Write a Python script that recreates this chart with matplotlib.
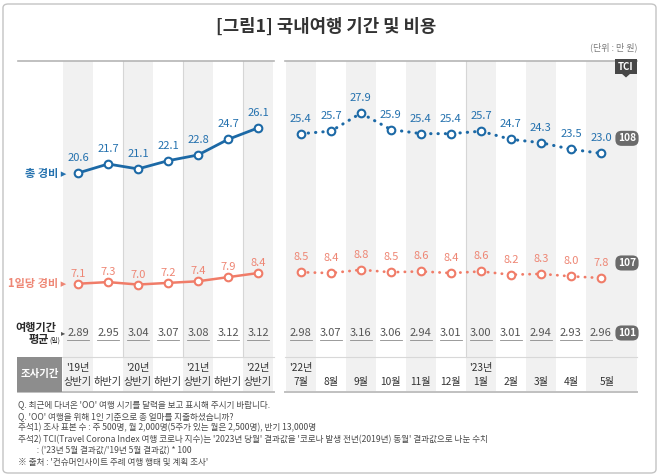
import numpy as np
import matplotlib
matplotlib.use("Agg")
import matplotlib.pyplot as plt
from matplotlib.patches import FancyBboxPatch, Rectangle, Polygon

plt.rcParams['font.family'] = ['Noto Sans CJK KR', 'DejaVu Sans']

# ---------------- data ----------------
periods_left = ["'19년\n상반기", "하반기", "'20년\n상반기", "하반기", "'21년\n상반기", "하반기", "'22년\n상반기"]
periods_right = ["'22년\n7월", "8월", "9월", "10월", "11월", "12월", "'23년\n1월", "2월", "3월", "4월", "5월"]
total_left = [20.6, 21.7, 21.1, 22.1, 22.8, 24.7, 26.1]
total_right = [25.4, 25.7, 27.9, 25.9, 25.4, 25.4, 25.7, 24.7, 24.3, 23.5, 23.0]
daily_left = [7.1, 7.3, 7.0, 7.2, 7.4, 7.9, 8.4]
daily_right = [8.5, 8.4, 8.8, 8.5, 8.6, 8.4, 8.6, 8.2, 8.3, 8.0, 7.8]
days_left = [2.89, 2.95, 3.04, 3.07, 3.08, 3.12, 3.12]
days_right = [2.98, 3.07, 3.16, 3.06, 2.94, 3.01, 3.00, 3.01, 2.94, 2.93, 2.96]
tci_total, tci_daily, tci_days = 108, 107, 101

title = "[그림1] 국내여행 기간 및 비용"
unit = "(단위 : 만 원)"
notes = [
    "Q. 최근에 다녀온 'OO' 여행 시기를 달력을 보고 표시해 주시기 바랍니다.",
    "Q. 'OO' 여행을 위해 1인 기준으로 총 얼마를 지출하셨습니까?",
    "주석1) 조사 표본 수 : 주 500명, 월 2,000명(5주가 있는 월은 2,500명), 반기 13,000명",
    "주석2) TCI(Travel Corona Index 여행 코로나 지수)는 '2023년 당월' 결과값을 '코로나 발생 전년(2019년) 동월' 결과값으로 나눈 수치",
    "          : ('23년 5월 결과값/'19년 5월 결과값) * 100",
    "※ 출처 : '컨슈머인사이트 주례 여행 행태 및 계획 조사'",
]

# ---------------- style ----------------
BLUE = '#1c69a6'
BLUE_T = '#2471ae'
RED = '#f07c68'
RED_T = '#ee8674'
BAND = '#f1f1f1'
W, H = 658, 476
X_ORIG, X_STEP = 78, 30.0
Y_TOP, Y_SCALE = 41.7, 8.2

def PX(p):
    return (p - X_ORIG) / X_STEP

def PY(p):
    return Y_TOP - p / Y_SCALE

fig = plt.figure(figsize=(W / 100, H / 100), dpi=100)
ax = fig.add_axes([0, 0, 1, 1])
ax.set_xlim(PX(0), PX(W))
ax.set_ylim(PY(H), PY(0))
ax.axis('off')

xl = np.arange(len(total_left), dtype=float)
xr = np.arange(len(total_left), len(total_left) + len(total_right)) + 0.43

# frame
fig.patches.append(FancyBboxPatch((3 / W, 3 / H), 653 / W, 469 / H,
                                  boxstyle='round,pad=0,rounding_size=0.008',
                                  transform=fig.transFigure, fc='none', ec='#c4c4c4', lw=1.0))

# background bands
y_b0, y_b1 = PY(392), PY(61)
for i in range(0, len(xl), 2):
    ax.add_patch(Rectangle((xl[i] - 0.5, y_b0), 1.0, y_b1 - y_b0, fc=BAND, ec='none', zorder=0))
for i in range(0, len(xr), 2):
    wdt = 1.0 if i < len(xr) - 1 else PX(637) - (xr[i] - 0.5)
    ax.add_patch(Rectangle((xr[i] - 0.5, y_b0), wdt, y_b1 - y_b0, fc=BAND, ec='none', zorder=0))

# year separators
for xv in [xl[2] - 0.5, xl[4] - 0.5, xl[6] - 0.5, xr[6] - 0.5]:
    ax.plot([xv, xv], [PY(357), PY(61)], color='#d6d6d6', lw=0.8, zorder=1)

# horizontal rules
for (a, b) in [(18, 274), (285, 637)]:
    ax.plot([PX(a), PX(b)], [PY(61)] * 2, color='#b5b5b5', lw=1.2, zorder=2)
    ax.plot([PX(a), PX(b)], [PY(392)] * 2, color='#c0c0c0', lw=1.4, zorder=2)
ax.plot([PX(62), PX(274)], [PY(357)] * 2, color='#d8d8d8', lw=0.8, zorder=2)
ax.plot([PX(285), PX(637)], [PY(357)] * 2, color='#d8d8d8', lw=0.8, zorder=2)

# 조사기간 box
ax.add_patch(Rectangle((PX(17), PY(392)), PX(62) - PX(17), PY(357) - PY(392),
                       fc='#8d8d8d', ec='none', zorder=2))
ax.text((PX(17) + PX(62)) / 2, PY(374.5), "조사기간", ha='center', va='center',
        color='white', fontsize=7.5, fontweight='bold', zorder=3)

# title / unit
ax.text(PX(326), PY(27), title, ha='center', va='center', fontsize=12.8,
        fontweight='bold', color='#333333')
ax.text(PX(637), PY(47), unit, ha='right', va='center', fontsize=6.5, color='#7a7a7a')

# TCI badge
ax.text(PX(626), PY(66.5), "TCI", ha='center', va='center', fontsize=7, fontweight='bold',
        color='white', zorder=6,
        bbox=dict(boxstyle='square,pad=0.3', fc='#474747', ec='none'))
ax.add_patch(Polygon([[PX(621), PY(73)], [PX(631), PY(73)], [PX(626), PY(77.5)]],
                     closed=True, fc='#474747', ec='none', zorder=6))

# lines
mk = dict(marker='o', ms=5.5, mfc='white', mew=1.5, zorder=5)
ax.plot(xl, total_left, color=BLUE, lw=2.0, mec=BLUE, solid_capstyle='round', **mk)
ax.plot(xr, total_right, color=BLUE, lw=2.2, ls=(0, (0.1, 2.3)), dash_capstyle='round', mec=BLUE, **mk)
ax.plot(xl, daily_left, color=RED, lw=1.8, mec=RED, solid_capstyle='round', **mk)
ax.plot(xr, daily_right, color=RED, lw=2.0, ls=(0, (0.1, 2.4)), dash_capstyle='round', mec=RED, **mk)

# value labels
off15 = 15 / Y_SCALE
off10 = 10 / Y_SCALE
for x, v in zip(xl, total_left):
    ax.text(x, v + off15, f"{v:.1f}", ha='center', va='center', fontsize=8, color=BLUE_T, zorder=6)
for x, v in zip(xr, total_right):
    ax.text(x, v + off15, f"{v:.1f}", ha='center', va='center', fontsize=8, color=BLUE_T, zorder=6)
for x, v in zip(xl, daily_left):
    ax.text(x, v + off10, f"{v:.1f}", ha='center', va='center', fontsize=8, color=RED_T, zorder=6)
for x, v in zip(xr, daily_right):
    ax.text(x, v + off15, f"{v:.1f}", ha='center', va='center', fontsize=8, color=RED_T, zorder=6)

# days row
for x, d in zip(list(xl) + list(xr), days_left + days_right):
    ax.text(x, PY(333), f"{d:.2f}", ha='center', va='center', fontsize=8, color='#555555', zorder=6)
    ax.plot([x - 0.36, x + 0.36], [PY(340)] * 2, color='#8a8a8a', lw=0.6, zorder=6)

# TCI value badges
badge = dict(boxstyle='round,pad=0.25,rounding_size=0.6', fc='#6b6b6b', ec='none')
ax.text(PX(627), total_right[-1] + off15, f"{tci_total}", ha='center', va='center', fontsize=7.3,
        fontweight='bold', color='white', bbox=badge, zorder=7)
ax.text(PX(627), daily_right[-1] + off15, f"{tci_daily}", ha='center', va='center', fontsize=7.3,
        fontweight='bold', color='white', bbox=badge, zorder=7)
ax.text(PX(627), PY(333), f"{tci_days}", ha='center', va='center', fontsize=7.3,
        fontweight='bold', color='white', bbox=badge, zorder=7)

# row labels
ax.text(PX(66), total_left[0], "총 경비 ▸", ha='right', va='center', fontsize=8,
        fontweight='bold', color=BLUE_T)
ax.text(PX(66), daily_left[0], "1일당 경비 ▸", ha='right', va='center', fontsize=8,
        fontweight='bold', color=RED_T)
ax.text(PX(36), PY(327), "여행기간", ha='center', va='center', fontsize=8,
        fontweight='bold', color='#2a2a2a')
ax.text(PX(49), PY(340), "평균", ha='right', va='center', fontsize=8,
        fontweight='bold', color='#2a2a2a')
ax.text(PX(49), PY(341), "(일)", ha='left', va='center', fontsize=5, color='#2a2a2a')
ax.text(PX(63), PY(333), "▸", ha='center', va='center', fontsize=6, color='#555555')

# period row
for x, lab in zip(list(xl) + list(xr), periods_left + periods_right):
    if lab == periods_right[-1]:
        x = x + 0.2
    parts = lab.split('\n')
    if len(parts) == 2:
        ax.text(x, PY(368), parts[0], ha='center', va='center', fontsize=7.3, color='#333333')
        ax.text(x, PY(382), parts[1], ha='center', va='center', fontsize=7.3, color='#333333')
    else:
        ax.text(x, PY(382), parts[0], ha='center', va='center', fontsize=7.3, color='#333333')

# footnotes
for k, line in enumerate(notes):
    ax.text(PX(18), PY(405 + 11.5 * k), line, ha='left', va='center', fontsize=6.2, color='#4a4a4a')

fig.savefig("out.png", dpi=100)
